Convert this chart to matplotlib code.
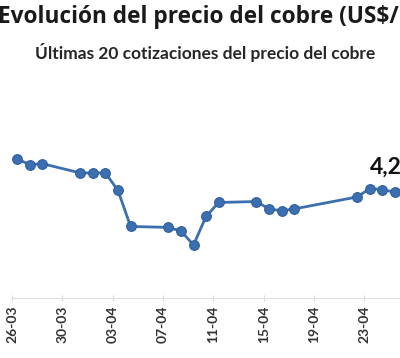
import numpy as np
import pandas as pd
import matplotlib
matplotlib.use('Agg')
import matplotlib.pyplot as plt
import matplotlib.dates as mdates

# copper price, US$/lb
fechas = ['2025-03-26', '2025-03-27', '2025-03-28', '2025-03-31', '2025-04-01',
          '2025-04-02', '2025-04-03', '2025-04-04', '2025-04-07', '2025-04-08',
          '2025-04-09', '2025-04-10', '2025-04-11', '2025-04-14', '2025-04-15',
          '2025-04-16', '2025-04-17', '2025-04-22', '2025-04-23', '2025-04-24',
          '2025-04-25']
precios = [4.61, 4.55, 4.56, 4.46, 4.46, 4.46, 4.27, 3.88, 3.87, 3.83,
           3.68, 3.99, 4.14, 4.15, 4.07, 4.05, 4.07, 4.20, 4.29, 4.28, 4.25]
tick_fechas = ['2025-03-26', '2025-03-30', '2025-04-03', '2025-04-07',
               '2025-04-11', '2025-04-15', '2025-04-19', '2025-04-23']

titulo = 'Evolución del precio del cobre (US$/lb)'
subtitulo = 'Últimas 20 cotizaciones del precio del cobre'

azul = '#3b6fb0'

x = mdates.date2num(pd.to_datetime(fechas)) + 0.42
ticks = mdates.date2num(pd.to_datetime(tick_fechas))

fig = plt.figure(figsize=(4, 3.58), dpi=100)
ax = fig.add_axes([0.029, 0.1676, 0.971, 0.609])

ax.plot(x, precios, color=azul, lw=2.0, marker='o', ms=7,
        mfc=azul, mec='#2f5f9e', mew=0.8, zorder=3)

ax.set_xlim(ticks[0] - 0.03, ticks[0] + 30.82)
ax.set_ylim(3.105, 5.467)
ax.set_xticks(ticks)
ax.set_xticklabels([pd.Timestamp(t).strftime('%d-%m') for t in tick_fechas],
                   rotation=90, fontsize=10, fontweight='bold',
                   color='#333333', family='Lato')
ax.tick_params(axis='x', direction='inout', length=5, width=0.8,
               color='#d9d9d9', pad=3)
ax.set_yticks([])
for s in ['top', 'left', 'right']:
    ax.spines[s].set_visible(False)
ax.spines['bottom'].set_color('#e0e0e0')
ax.spines['bottom'].set_linewidth(0.8)

ax.annotate('{:.2f}'.format(precios[-1]).replace('.', ','),
            (x[-1], precios[-1]), xytext=(-18, 13.5), textcoords='offset points',
            ha='left', va='baseline', fontsize=16.5, fontweight='bold',
            family='Lato', color='#111111', annotation_clip=False)

fig.text(-0.004, 0.953, titulo, ha='left', va='center', fontsize=16.3,
         fontweight='bold', family='Open Sans', color='#1a1a1a')
fig.text(0.512, 0.853, subtitulo, ha='center', va='center', fontsize=12.5,
         fontweight='bold', family='Lato', color='#262626')

fig.savefig('out.png', dpi=100)
